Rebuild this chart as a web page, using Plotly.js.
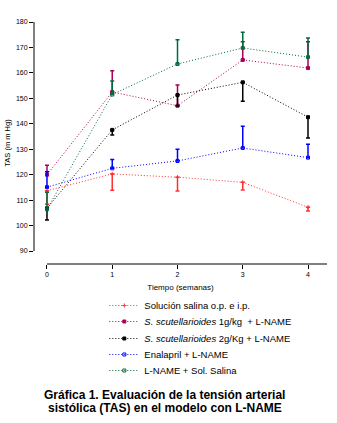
<!DOCTYPE html>
<html><head><meta charset="utf-8">
<script src="https://cdn.plot.ly/plotly-3.0.1.min.js"></script>
<style>html,body{margin:0;padding:0;background:#fff;}#chart{width:337px;height:423px;}</style>
</head><body><div id="chart"></div>
<script>
const weeks = [0, 1, 2, 3, 4];
const seriesNames = [
  'Solución salina o.p. e i.p.',
  '<i>S. scutellarioides</i> 1g/kg  + L-NAME',
  '<i>S. scutellarioides</i> 2g/Kg + L-NAME',
  'Enalapril + L-NAME',
  'L-NAME + Sol. Salina'
];
const salina = [113.7, 120.3, 119.0, 117.0, 107.2];
const salinaErr = [5.3, 6.4, 5.4, 3.0, 1.5];
const scut1 = [120.0, 152.5, 147.1, 165.1, 161.9];
const scut1Err = [3.7, 8.3, 8.1, 7.1, 10.3];
const scut2 = [106.8, 137.6, 151.3, 156.3, 142.6];
const scut2Err = [4.6, 2.0, 4.3, 7.4, 8.2];
const enalapril = [115.1, 122.5, 125.4, 130.5, 126.7];
const enalaprilErr = [6.1, 3.5, 4.6, 8.5, 5.3];
const lname = [106.4, 151.5, 163.5, 169.8, 166.2];
const lnameErr = [6.7, 5.3, 9.5, 6.2, 7.5];
const yTicks = [90, 100, 110, 120, 130, 140, 150, 160, 170, 180];
const xTicks = [0, 1, 2, 3, 4];

const legendIds = ['legend', 'legend2', 'legend3', 'legend4', 'legend5'];
function tr(i, y, err, dir, color, symbol) {
  const e = {type: 'data', symmetric: false, color: color, thickness: 1.5, width: 2};
  if (dir === 'minus') { e.array = y.map(() => 0); e.arrayminus = err; }
  else { e.array = err; e.arrayminus = y.map(() => 0); }
  return {
    x: weeks, y: y, name: seriesNames[i], type: 'scatter', mode: 'lines+markers',
    legend: legendIds[i],
    line: {color: color, width: 1, dash: '1px,2px'},
    marker: {color: color, size: 3, symbol: symbol, line: {color: color, width: 1}},
    error_y: e
  };
}
const data = [
  tr(0, salina, salinaErr, 'minus', '#ff3030', 'cross-thin'),
  tr(1, scut1, scut1Err, 'plus', '#a8005a', 'square'),
  tr(2, scut2, scut2Err, 'minus', '#000000', 'square'),
  tr(3, enalapril, enalaprilErr, 'plus', '#0000ff', 'square-open'),
  tr(4, lname, lnameErr, 'plus', '#006b3c', 'square-open')
];
const F = 'Liberation Sans, Arial, sans-serif';
const legendTops = [-0.1116, -0.1777, -0.2479, -0.3140, -0.3802];
const layout = {
  width: 337, height: 423,
  margin: {l: 34, r: 10, t: 22, b: 159},
  paper_bgcolor: '#fff', plot_bgcolor: '#fff',
  showlegend: true,
  font: {family: F, color: '#000', size: 7},
  xaxis: {
    range: [-0.199, 4.291], tickvals: xTicks, ticktext: xTicks.map(String),
    showgrid: false, zeroline: false, showline: false,
    ticks: 'outside', ticklen: 4, tickwidth: 1, tickcolor: '#000',
    tickfont: {size: 7, family: F},
    title: {text: 'Tiempo (semanas)', font: {size: 8, family: F}, standoff: 6}
  },
  yaxis: {
    range: [84.9, 180], tickvals: yTicks, ticktext: yTicks.map(String),
    showgrid: false, zeroline: false, showline: false,
    ticks: 'outside', ticklen: 4, tickwidth: 1, tickcolor: '#000',
    tickfont: {size: 7, family: F},
    title: {text: 'TAS (m m Hg)', font: {size: 7.5, family: F}, standoff: 4}
  },
  shapes: [
    {type: 'line', xref: 'paper', yref: 'y', x0: 0, x1: 0, y0: 90, y1: 180, line: {color: '#000', width: 1}},
    {type: 'line', xref: 'x', yref: 'paper', x0: 0, x1: 4.291, y0: 0, y1: 0, line: {color: '#000', width: 1}}
  ],
  annotations: [
    {xref: 'paper', yref: 'paper', x: 0.447, y: -0.5, yshift: -1, xanchor: 'center', yanchor: 'top',
     showarrow: false, align: 'center',
     text: '<b>Gráfica 1. Evaluación de la tensión arterial</b>',
     font: {size: 12, family: F, color: '#000'}},
    {xref: 'paper', yref: 'paper', x: 0.447, y: -0.5, yshift: -14, xanchor: 'center', yanchor: 'top',
     showarrow: false, align: 'center',
     text: '<b>sistólica (TAS) en el modelo con L-NAME</b>',
     font: {size: 12, family: F, color: '#000'}}
  ]
};
legendIds.forEach((id, i) => {
  layout[id] = {
    x: 0.24, y: legendTops[i], xanchor: 'left', yanchor: 'top',
    font: {size: 9.5, family: F, color: '#000'},
    bgcolor: 'rgba(0,0,0,0)', itemwidth: 30
  };
});
Plotly.newPlot('chart', data, layout, {displayModeBar: false, staticPlot: true});
</script></body></html>
